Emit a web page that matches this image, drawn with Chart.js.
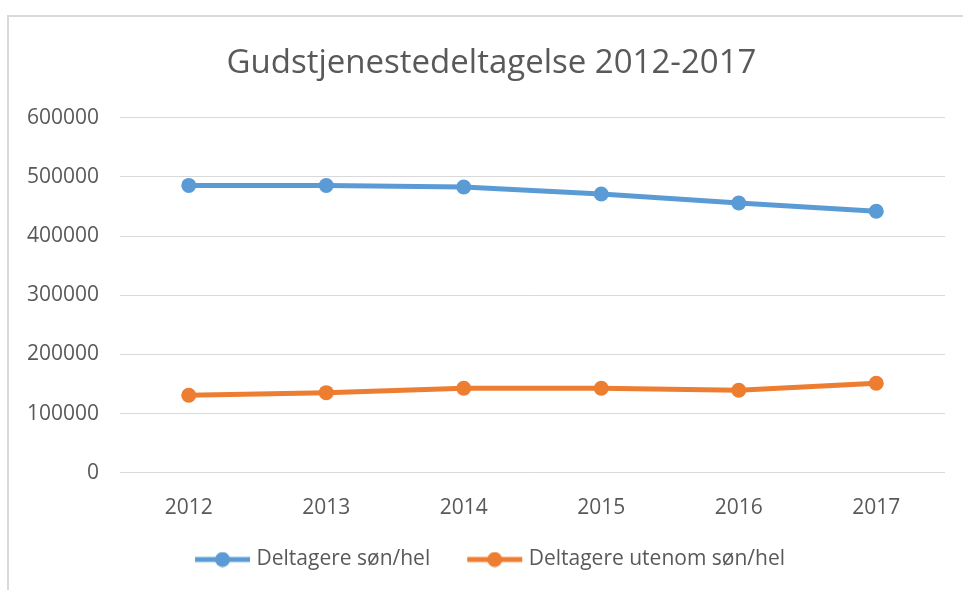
<!DOCTYPE html>
<html>
<head>
<meta charset="utf-8">
<script src="https://cdn.jsdelivr.net/npm/chart.js@4.4.1/dist/chart.umd.min.js"></script>
<style>
  html, body { margin: 0; padding: 0; background: #fff; overflow: hidden; }
  #wrap { position: relative; width: 963px; height: 590px; }
  #frame {
    position: absolute; left: 7px; top: 15px; width: 1000px; height: 600px;
    border-left: 2px solid #d9d9d9; border-top: 2px solid #d9d9d9;
    pointer-events: none;
  }
</style>
</head>
<body>
<div id="wrap">
  <canvas id="chart" width="963" height="590"></canvas>
  <div id="frame"></div>
</div>
<script>
const years = ["2012", "2013", "2014", "2015", "2016", "2017"];
const sonHel = [485500, 485200, 482800, 471000, 455800, 441800];
const utenomSonHel = [131000, 135400, 142800, 142800, 139400, 151200];
const yTicks = [0, 100000, 200000, 300000, 400000, 500000, 600000];

const textGray = "#595959";
const FONT = "'Open Sans', sans-serif";

// line+dot for the legend; left part is blank so items sit further apart
function legendMarker(color) {
  const c = document.createElement("canvas");
  c.width = 76;
  c.height = 16;
  const g = c.getContext("2d");
  g.strokeStyle = color;
  g.lineWidth = 5;
  g.beginPath();
  g.moveTo(20, 8);
  g.lineTo(75, 8);
  g.stroke();
  g.fillStyle = color;
  g.beginPath();
  g.arc(47.5, 8, 7.5, 0, Math.PI * 2);
  g.fill();
  return c;
}

const frame = { left: 120, right: 945 };

// title and legend sit a bit right of the canvas middle in the original
const nudge = {
  id: "nudge",
  afterLayout(chart) {
    chart.titleBlock.left += 19;
    chart.titleBlock.right += 19;
    chart.legend.left += 10;
    chart.legend.right += 10;
  },
};

new Chart(document.getElementById("chart").getContext("2d"), {
  type: "line",
  data: {
    labels: years,
    datasets: [
      {
        label: "Deltagere søn/hel",
        data: sonHel,
        borderColor: "#5B9BD5",
        backgroundColor: "#5B9BD5",
        borderWidth: 5,
        pointRadius: 7.5,
        pointBorderWidth: 0,
        tension: 0,
      },
      {
        label: "Deltagere utenom søn/hel",
        data: utenomSonHel,
        borderColor: "#ED7D31",
        backgroundColor: "#ED7D31",
        borderWidth: 5,
        pointRadius: 7.5,
        pointBorderWidth: 0,
        tension: 0,
      },
    ],
  },
  options: {
    responsive: false,
    animation: false,
    layout: { padding: { left: 0, right: 963 - frame.right, top: 44, bottom: 10 } },
    scales: {
      x: {
        offset: true,
        afterFit: (scale) => { scale.height = scale.height - 17; },
        grid: { display: false, drawTicks: false },
        border: { display: false },
        ticks: { color: textGray, font: { family: FONT, size: 21 }, padding: 23 },
      },
      y: {
        min: 0,
        max: 600000,
        afterFit: (scale) => { scale.width = frame.left; },
        afterBuildTicks: (scale) => { scale.ticks = yTicks.map((v) => ({ value: v })); },
        grid: { color: "#d9d9d9", lineWidth: 1, drawTicks: false },
        border: { display: false },
        ticks: {
          color: textGray,
          font: { family: FONT, size: 21 },
          padding: 21,
          callback: (v) => String(v),
        },
      },
    },
    plugins: {
      title: {
        display: true,
        text: "Gudstjenestedeltagelse 2012-2017",
        color: textGray,
        font: { family: FONT, size: 33, weight: "normal" },
        padding: { top: 0, bottom: 34 },
      },
      legend: {
        position: "bottom",
        labels: {
          usePointStyle: true,
          pointStyleWidth: 66,
          color: textGray,
          font: { family: FONT, size: 21 },
          padding: 22,
          generateLabels: (chart) =>
            chart.data.datasets.map((ds, i) => ({
              text: ds.label,
              fontColor: textGray,
              pointStyle: legendMarker(ds.borderColor),
              datasetIndex: i,
              lineWidth: 0,
              strokeStyle: "transparent",
              fillStyle: ds.borderColor,
            })),
        },
      },
      tooltip: { enabled: false },
    },
  },
  plugins: [nudge],
});
</script>
</body>
</html>
